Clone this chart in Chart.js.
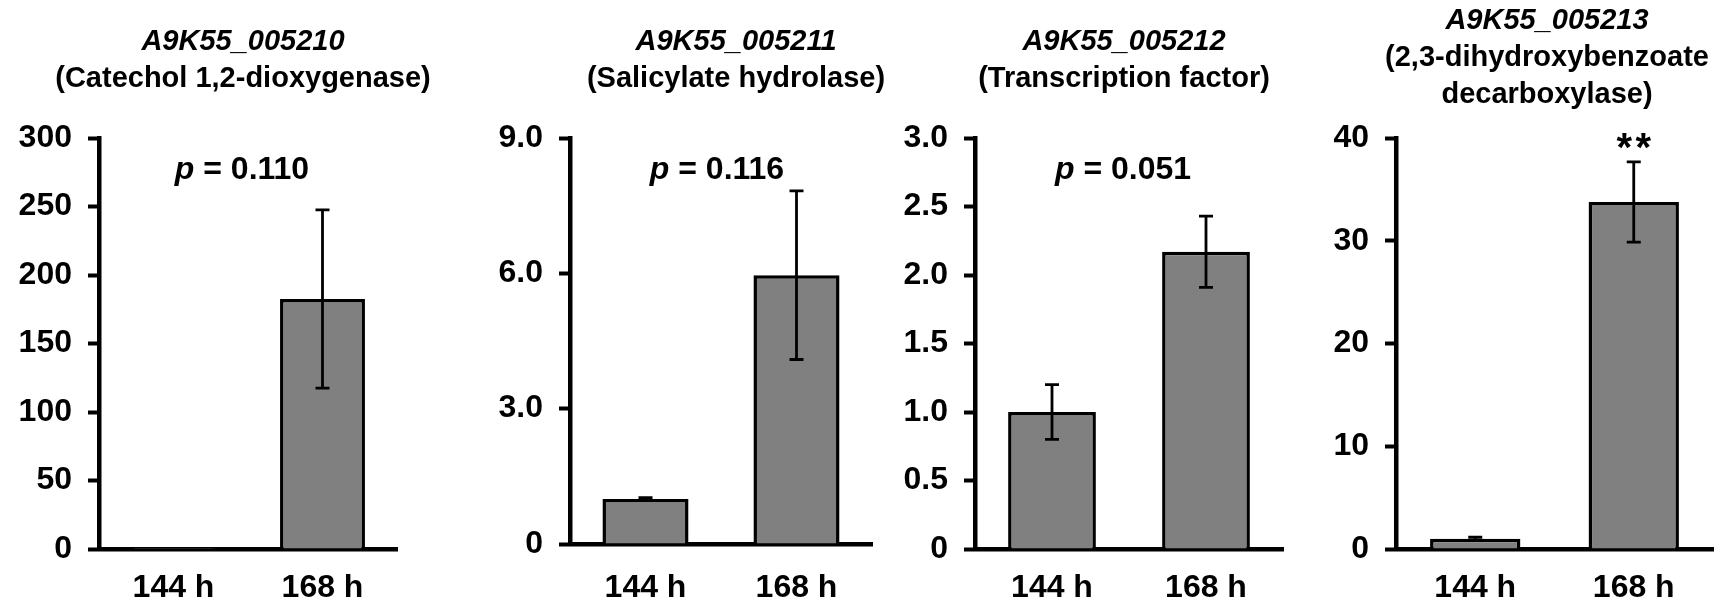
<!DOCTYPE html>
<html>
<head>
<meta charset="utf-8">
<script src="https://cdn.jsdelivr.net/npm/chart.js@4"></script>
<style>
  body { margin: 0; background: #fff; }
  #wrap { position: relative; width: 1720px; height: 607px; }
  canvas { position: absolute; top: 0; }
</style>
</head>
<body>
<div id="wrap"></div>
<script>
// data
const categories = ['144 h', '168 h'];
const geneIds = ['A9K55_005210', 'A9K55_005211', 'A9K55_005212', 'A9K55_005213'];
const geneNames = [
  ['(Catechol 1,2-dioxygenase)'],
  ['(Salicylate hydrolase)'],
  ['(Transcription factor)'],
  ['(2,3-dihydroxybenzoate', 'decarboxylase)']
];
const means1 = [1, 182.5];
const errors1 = [0, 65];
const means2 = [1.0, 5.96];
const errors2 = [0.03, 1.87];
const means3 = [1.0, 2.17];
const errors3 = [0.2, 0.26];
const means4 = [1.0, 33.77];
const errors4 = [0.15, 3.9];
const yTicks1 = ['0', '50', '100', '150', '200', '250', '300'];
const yTicks2 = ['0', '3.0', '6.0', '9.0'];
const yTicks3 = ['0', '0.5', '1.0', '1.5', '2.0', '2.5', '3.0'];
const yTicks4 = ['0', '10', '20', '30', '40'];
const yMax = [300, 9, 3, 40];
const yStep = [50, 3, 0.5, 10];
const pValues = ['0.110', '0.116', '0.051', null];
const stars = [null, null, null, '**'];

const allMeans = [means1, means2, means3, means4];
const allErrors = [errors1, errors2, errors3, errors4];
const allTicks = [yTicks1, yTicks2, yTicks3, yTicks4];

// layout (page pixels)
const panels = [
  { left: 0,    width: 448, axisLeft: 99,   axisRight: 397,  axisBottom: 549, titleX: 243,  pX: 242 },
  { left: 448,  width: 452, axisLeft: 570,  axisRight: 872,  axisBottom: 544, titleX: 736,  pX: 717 },
  { left: 900,  width: 410, axisLeft: 975,  axisRight: 1283, axisBottom: 549, titleX: 1124, pX: 1123 },
  { left: 1310, width: 410, axisLeft: 1396, axisRight: 1713, axisBottom: 549, titleX: 1547, pX: 0 }
];
const H = 607;
const axisTop = 138;
const FONT = "'Liberation Sans', Arial, Helvetica, sans-serif";

const errorBars = {
  id: 'errorBars',
  afterDatasetsDraw(chart, args, opts) {
    const ctx = chart.ctx;
    const meta = chart.getDatasetMeta(0);
    const y = chart.scales.y;
    ctx.save();
    ctx.strokeStyle = '#000';
    ctx.lineWidth = 2.8;
    meta.data.forEach((bar, i) => {
      const m = opts.means[i], e = opts.errors[i];
      if (!e) return;
      const yt = y.getPixelForValue(m + e);
      const yb = y.getPixelForValue(m - e);
      ctx.beginPath();
      ctx.moveTo(bar.x, yt); ctx.lineTo(bar.x, yb);
      ctx.moveTo(bar.x - 7, yt); ctx.lineTo(bar.x + 7, yt);
      ctx.moveTo(bar.x - 7, yb); ctx.lineTo(bar.x + 7, yb);
      ctx.stroke();
    });
    ctx.restore();
  }
};

const labels = {
  id: 'labels',
  afterDraw(chart, args, opts) {
    const ctx = chart.ctx;
    ctx.save();
    ctx.fillStyle = '#000';
    ctx.textAlign = 'center';
    ctx.textBaseline = 'middle';
    const lines = [{ t: opts.id, italic: true }].concat(opts.names.map(t => ({ t, italic: false })));
    const top = lines.length > 2 ? 21 : 42;
    lines.forEach((ln, k) => {
      ctx.font = (ln.italic ? 'italic ' : '') + 'bold 29px ' + FONT;
      ctx.fillText(ln.t, opts.titleX, top + k * 37);
    });
    ctx.textBaseline = 'alphabetic';
    if (opts.p) {
      ctx.font = 'italic bold 32px ' + FONT;
      const w1 = ctx.measureText('p').width;
      ctx.font = 'bold 32px ' + FONT;
      const rest = ' = ' + opts.p;
      const w2 = ctx.measureText(rest).width;
      const x0 = opts.pX - (w1 + w2) / 2;
      ctx.textAlign = 'left';
      ctx.font = 'italic bold 32px ' + FONT;
      ctx.fillText('p', x0, 179);
      ctx.font = 'bold 32px ' + FONT;
      ctx.fillText(rest, x0 + w1, 179);
    }
    if (opts.stars) {
      const bar = chart.getDatasetMeta(0).data[1];
      ctx.textAlign = 'center';
      ctx.font = 'bold 40px ' + FONT;
      const n = opts.stars.length, gap = 19;
      for (let k = 0; k < n; k++) {
        ctx.fillText('*', bar.x + (k - (n - 1) / 2) * gap, 161);
      }
    }
    ctx.restore();
  }
};

const wrap = document.getElementById('wrap');
panels.forEach((pn, i) => {
  const cv = document.createElement('canvas');
  cv.width = pn.width; cv.height = H;
  cv.style.left = pn.left + 'px';
  cv.style.width = pn.width + 'px'; cv.style.height = H + 'px';
  wrap.appendChild(cv);
  const tickLabels = allTicks[i];
  new Chart(cv.getContext('2d'), {
    type: 'bar',
    data: {
      labels: categories,
      datasets: [{
        data: allMeans[i],
        backgroundColor: '#808080',
        borderColor: '#000',
        borderWidth: 3.5,
        barPercentage: 0.57,
        categoryPercentage: 1
      }]
    },
    options: {
      responsive: false,
      animation: false,
      layout: { padding: { left: 0, top: axisTop, right: pn.left + pn.width - pn.axisRight, bottom: 0 } },
      plugins: {
        legend: { display: false },
        tooltip: { enabled: false },
        errorBars: { means: allMeans[i], errors: allErrors[i] },
        labels: {
          id: geneIds[i], names: geneNames[i], p: pValues[i], stars: stars[i],
          titleX: pn.titleX - pn.left, pX: pn.pX - pn.left
        }
      },
      scales: {
        x: {
          grid: { display: false, drawTicks: false },
          border: { display: true, color: '#000', width: 4.5 },
          ticks: {
            color: '#000',
            font: { family: FONT, size: 32, weight: 'bold' },
            padding: 20 + (549 - pn.axisBottom)
          },
          afterFit: s => { s.height = H - pn.axisBottom; }
        },
        y: {
          min: 0, max: yMax[i],
          grid: { drawOnChartArea: false, drawTicks: true, tickLength: 11, tickWidth: 4, tickColor: '#000' },
          border: { display: true, color: '#000', width: 4.5 },
          ticks: {
            stepSize: yStep[i],
            color: '#000',
            padding: 16,
            font: { family: FONT, size: 32, weight: 'bold' },
            callback: (v, idx) => tickLabels[idx]
          },
          afterFit: s => { s.width = pn.axisLeft - pn.left; }
        }
      }
    },
    plugins: [errorBars, labels]
  });
});
</script>
</body>
</html>
